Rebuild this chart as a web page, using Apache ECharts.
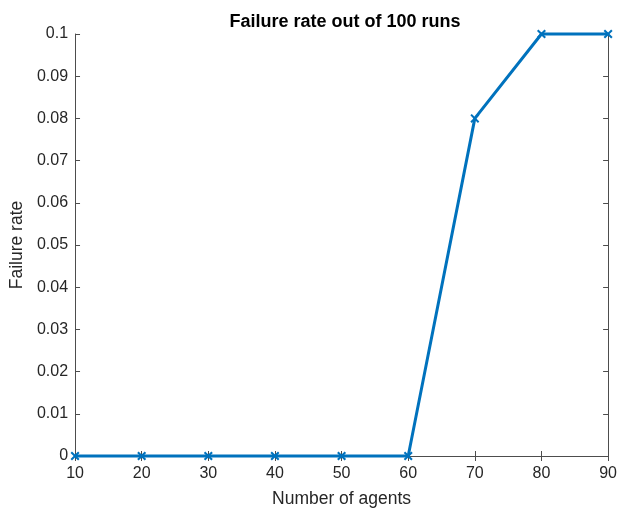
<!DOCTYPE html>
<html><head><meta charset="utf-8">
<script src="https://cdn.jsdelivr.net/npm/echarts@6/dist/echarts.min.js"></script>
<style>html,body{margin:0;padding:0;background:#fff}#c{width:620px;height:513px}</style>
</head><body><div id="c"></div>
<script>
const agents = [10, 20, 30, 40, 50, 60, 70, 80, 90];
const failureRate = [0, 0, 0, 0, 0, 0, 0.08, 0.1, 0.1];
const titleText = 'Failure rate out of 100 runs';
const xLabel = 'Number of agents';
const yLabel = 'Failure rate';

const chart = echarts.init(document.getElementById('c'), null, {renderer: 'canvas'});
const font = 'Liberation Sans, Arial, Helvetica, sans-serif';
const axCol = '#4d4d4d';
const xMark = 'path://M0,1.6L1.6,0L5,3.4L8.4,0L10,1.6L6.6,5L10,8.4L8.4,10L5,6.6L1.6,10L0,8.4L3.4,5Z';
const common = {
  axisLine: {show: true, lineStyle: {color: axCol, width: 1}},
  axisTick: {show: true, inside: true, length: 5, lineStyle: {color: axCol}},
  splitLine: {show: false}
};
chart.setOption({
  animation: false,
  backgroundColor: '#fff',
  title: {text: titleText, left: 340, top: 8, textAlign: 'center',
    textStyle: {fontFamily: font, fontSize: 18, fontWeight: 'bold', color: '#000'}},
  grid: {left: 74, right: 11, top: 34, bottom: 56, containLabel: false},
  xAxis: [
    Object.assign({type: 'value', min: 10, max: 90, interval: 10, position: 'bottom',
      name: xLabel, nameLocation: 'middle', nameGap: 34,
      nameTextStyle: {fontFamily: font, fontSize: 17.5, color: '#262626'},
      axisLabel: {fontFamily: font, fontSize: 16, color: '#262626', margin: 10}}, common),
    Object.assign({type: 'value', min: 10, max: 90, interval: 10, position: 'top',
      axisLabel: {show: false}}, common)
  ],
  yAxis: [
    Object.assign({type: 'value', min: 0, max: 0.1, interval: 0.01, position: 'left',
      name: yLabel, nameLocation: 'middle', nameGap: 45,
      nameTextStyle: {fontFamily: font, fontSize: 17.5, color: '#262626'},
      axisLabel: {fontFamily: font, fontSize: 16, color: '#262626', margin: 7,
        formatter: v => String(Math.round(v * 100) / 100)}}, common),
    Object.assign({type: 'value', min: 0, max: 0.1, interval: 0.01, position: 'right',
      axisLabel: {show: false}}, common)
  ],
  series: [{
    type: 'line',
    data: agents.map((a, i) => [a, failureRate[i]]),
    symbol: xMark, symbolSize: 9, showAllSymbol: true,
    lineStyle: {color: '#0072BD', width: 3},
    itemStyle: {color: '#0072BD'},
    clip: false
  }]
});
</script></body></html>
